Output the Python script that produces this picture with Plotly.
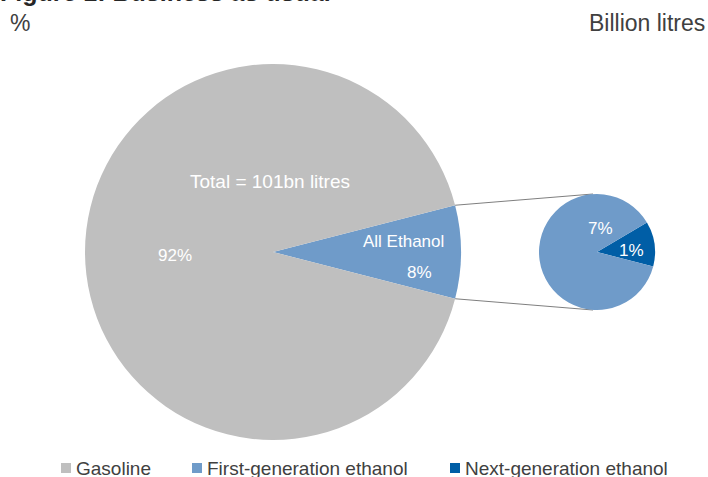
import math
import plotly.graph_objects as go

W, H = 708, 477

# ---- data ----
main_labels = ["All Ethanol", "Gasoline"]
main_values = [8, 92]
sub_labels = ["Next-generation ethanol", "First-generation ethanol"]
sub_values = [1, 7]
legend_labels = ["Gasoline", "First-generation ethanol", "Next-generation ethanol"]
total_text = "Total = 101bn litres"

GRAY = "#BFBFBF"
LIGHT = "#6F9BC9"
DARK = "#005EA6"
TXT = "#404040"
FONT = "Arial, Liberation Sans, sans-serif"

# ---- geometry (pixels) ----
big_c, big_r = (273, 252), 188
small_c, small_r = (597, 252), 58

def fx(x):
    return x / W

def fy(y):
    return 1 - y / H

def dom(c, r):
    return dict(x=[fx(c[0] - r), fx(c[0] + r)], y=[fy(c[1] + r), fy(c[1] - r)])

eth_share = main_values[0] / sum(main_values)
half = eth_share * 360 / 2
big_rot = 90 - half
small_rot = 59.4

fig = go.Figure()
fig.add_trace(go.Pie(
    labels=main_labels, values=main_values, sort=False, direction="clockwise",
    rotation=big_rot, domain=dom(big_c, big_r), textinfo="none", hoverinfo="label+percent",
    marker=dict(colors=[LIGHT, GRAY], line=dict(width=0)), showlegend=False,
))
fig.add_trace(go.Pie(
    labels=sub_labels, values=sub_values, sort=False, direction="clockwise",
    rotation=small_rot, domain=dom(small_c, small_r), textinfo="none", hoverinfo="label+value",
    marker=dict(colors=[DARK, LIGHT], line=dict(width=0)), showlegend=False,
))

# connector lines computed from pie geometry
shapes = []
for sgn in (1, -1):
    a = math.radians(half) * sgn
    x0 = big_c[0] + big_r * math.cos(a)
    y0 = big_c[1] - big_r * math.sin(a)
    x1 = small_c[0] - 4
    y1 = small_c[1] - sgn * small_r
    shapes.append(dict(type="line", xref="paper", yref="paper",
                       x0=fx(x0), y0=fy(y0), x1=fx(x1), y1=fy(y1),
                       line=dict(color="#7F7F7F", width=1), layer="below"))

ann = []
def add(text, x, y, size=15, color="white", xanchor="center", yanchor="middle", bold=False):
    ann.append(dict(text=f"<b>{text}</b>" if bold else text, x=fx(x), y=fy(y),
                    xref="paper", yref="paper", showarrow=False,
                    xanchor=xanchor, yanchor=yanchor,
                    font=dict(family=FONT, size=size, color=color)))

add(total_text, 270, 181, size=19)
add(f"{main_values[1]}%", 175, 255, size=17)
add(main_labels[0], 403, 242, size=17)
add(f"{main_values[0]}%", 419, 272, size=17)
add(f"{sub_values[1]}%", 600, 228, size=17)
add(f"{sub_values[0]}%", 631, 250, size=17)

add("Figure 1: Business as usual", -2, 8, size=25, color="#262626", xanchor="left", yanchor="bottom", bold=True)
add("%", 8, 23, size=23, color=TXT, xanchor="left")
add("Billion litres", 707, 23, size=23, color=TXT, xanchor="right")

leg_colors = [GRAY, LIGHT, DARK]
leg_sq_x = [61, 192, 450]
for lab, col, x in zip(legend_labels, leg_colors, leg_sq_x):
    shapes.append(dict(type="rect", xref="paper", yref="paper",
                       x0=fx(x), x1=fx(x + 10), y0=fy(473), y1=fy(463),
                       fillcolor=col, line=dict(width=0)))
    add(lab, x + 13, 468, size=19, color=TXT, xanchor="left")

fig.update_layout(
    width=W, height=H, margin=dict(l=0, r=0, t=0, b=0),
    paper_bgcolor="white", plot_bgcolor="white",
    shapes=shapes, annotations=ann, showlegend=False,
    font=dict(family=FONT),
)
fig.write_html("out.html")
